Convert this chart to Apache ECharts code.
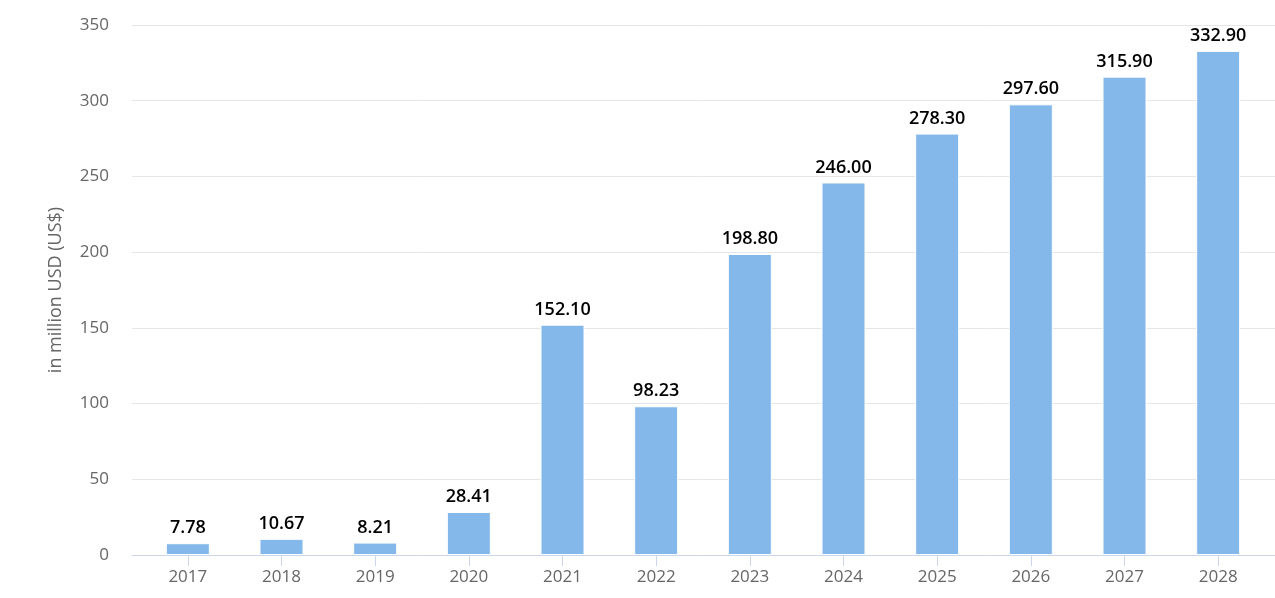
<!DOCTYPE html>
<html>
<head>
<meta charset="UTF-8">
<title>Revenue</title>
<script src="https://cdn.jsdelivr.net/npm/echarts@6/dist/echarts.min.js"></script>
<style>
  html, body { margin: 0; padding: 0; background: #fff; }
  #main { width: 1275px; height: 598px; }
</style>
</head>
<body>
<div id="main"></div>
<script>
  var years = ['2017', '2018', '2019', '2020', '2021', '2022', '2023', '2024', '2025', '2026', '2027', '2028'];
  var revenue = [7.78, 10.67, 8.21, 28.41, 152.10, 98.23, 198.80, 246.00, 278.30, 297.60, 315.90, 332.90];
  var yTicks = { min: 0, max: 350, interval: 50 };

  var font = 'Open Sans';
  var myChart = echarts.init(document.getElementById('main'));

  var option = {
    backgroundColor: '#fff',
    animation: false,
    grid: [
      // grid 0: full-width background with y labels and split lines
      { left: 132, right: 0, top: 25, bottom: 43 },
      // grid 1: bars, inset so categories line up with the picture
      { left: 141, right: 10, top: 25, bottom: 43 }
    ],
    xAxis: [
      {
        gridIndex: 0, type: 'value', min: 0, max: 1,
        axisLine: { show: true, lineStyle: { color: '#ccd6eb', width: 1 } },
        axisTick: { show: false }, axisLabel: { show: false }, splitLine: { show: false }
      },
      {
        gridIndex: 1, type: 'category', data: years,
        axisLine: { show: false },
        axisTick: { show: true, alignWithLabel: true, length: 11, lineStyle: { color: '#ccd6eb' } },
        axisLabel: { color: '#666', fontSize: 17, fontFamily: font, margin: 14 }
      }
    ],
    yAxis: [
      {
        gridIndex: 0, type: 'value', min: yTicks.min, max: yTicks.max, interval: yTicks.interval,
        name: 'in million USD (US$)', nameLocation: 'middle', nameGap: 67,
        nameTextStyle: { color: '#666', fontSize: 18, fontFamily: font },
        axisLine: { show: false }, axisTick: { show: false },
        axisLabel: { color: '#666', fontSize: 17, fontFamily: font, margin: 23 },
        splitLine: { lineStyle: { color: '#e6e6e6', width: 1 } }
      },
      {
        gridIndex: 1, type: 'value', min: yTicks.min, max: yTicks.max, show: false
      }
    ],
    series: [
      {
        type: 'bar', xAxisIndex: 1, yAxisIndex: 1,
        data: revenue,
        barWidth: 44,
        itemStyle: { color: '#85b8ea', borderColor: '#fff', borderWidth: 1 },
        label: {
          show: true, position: 'top', distance: 6,
          color: '#000', fontSize: 18, fontWeight: 600, fontFamily: font,
          formatter: function (p) { return p.value.toFixed(2); }
        }
      }
    ]
  };
  myChart.setOption(option);
</script>
</body>
</html>
